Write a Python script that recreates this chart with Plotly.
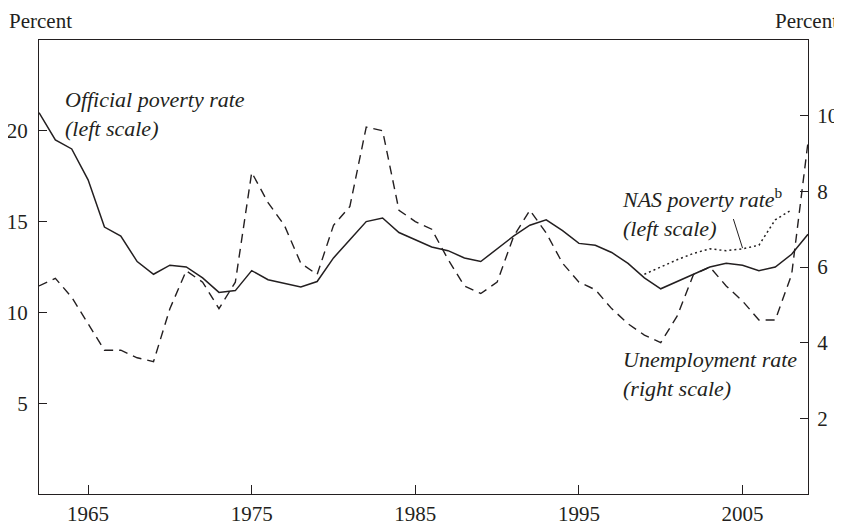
import plotly.graph_objects as go

years = list(range(1962, 2010))
official_poverty = [21.0, 19.5, 19.0, 17.3, 14.7, 14.2, 12.8, 12.1, 12.6, 12.5,
                    11.9, 11.1, 11.2, 12.3, 11.8, 11.6, 11.4, 11.7, 13.0, 14.0,
                    15.0, 15.2, 14.4, 14.0, 13.6, 13.4, 13.0, 12.8, 13.5, 14.2,
                    14.8, 15.1, 14.5, 13.8, 13.7, 13.3, 12.7, 11.9, 11.3, 11.7,
                    12.1, 12.5, 12.7, 12.6, 12.3, 12.5, 13.2, 14.3]
unemployment = [5.5, 5.7, 5.2, 4.5, 3.8, 3.8, 3.6, 3.5, 4.9, 5.9,
                5.6, 4.9, 5.6, 8.5, 7.7, 7.1, 6.1, 5.8, 7.1, 7.6,
                9.7, 9.6, 7.5, 7.2, 7.0, 6.2, 5.5, 5.3, 5.6, 6.8,
                7.5, 6.9, 6.1, 5.6, 5.4, 4.9, 4.5, 4.2, 4.0, 4.7,
                5.8, 6.0, 5.5, 5.1, 4.6, 4.6, 5.8, 9.3]
nas_years = list(range(1999, 2009))
nas_poverty = [12.1, 12.5, 12.9, 13.25, 13.5, 13.4, 13.5, 13.7, 15.1, 15.65]

x_ticks = [1965, 1975, 1985, 1995, 2005]
left_ticks = [5, 10, 15, 20]
right_ticks = [2, 4, 6, 8, 10]

INK = "#231f20"
FONT = "Liberation Serif"

fig = go.Figure()
fig.add_trace(go.Scatter(x=years, y=official_poverty, mode="lines",
                         line=dict(color=INK, width=1.5), yaxis="y"))
fig.add_trace(go.Scatter(x=nas_years, y=nas_poverty, mode="lines",
                         line=dict(color=INK, width=1.5, dash="2px,3px"), yaxis="y"))
fig.add_trace(go.Scatter(x=years, y=unemployment, mode="lines",
                         line=dict(color=INK, width=1.4, dash="9px,6px"), yaxis="y2"))

# The page body offsets the figure by 8px, so the figure is 8px smaller
# and its margins are reduced accordingly on the left and top.
fig.update_layout(
    width=834, height=519,
    margin=dict(l=31, r=34, t=32, b=33),
    paper_bgcolor="white", plot_bgcolor="white",
    showlegend=False,
    font=dict(family=FONT, size=21, color=INK),
    xaxis=dict(range=[1962, 2009], tickvals=x_ticks, ticks="inside", ticklen=9,
               tickcolor=INK, tickwidth=1.2, showline=True, linecolor=INK,
               linewidth=1.3, mirror=True, showgrid=False, zeroline=False,
               automargin=False, ticklabelstandoff=1,
               tickfont=dict(family=FONT, size=21, color=INK)),
    yaxis=dict(range=[0, 25], tickvals=left_ticks, ticks="inside", ticklen=8,
               tickcolor=INK, tickwidth=1.2, showline=True, linecolor=INK,
               linewidth=1.3, showgrid=False, zeroline=False,
               automargin=False, ticklabelstandoff=6,
               tickfont=dict(family=FONT, size=21, color=INK)),
    yaxis2=dict(range=[0, 12], tickvals=right_ticks, ticks="inside", ticklen=8,
                tickcolor=INK, tickwidth=1.2, showline=True, linecolor=INK,
                linewidth=1.3, showgrid=False, zeroline=False, overlaying="y",
                side="right", automargin=False, ticklabelstandoff=4,
                tickfont=dict(family=FONT, size=21, color=INK)),
)

ann_font = dict(family=FONT, size=22, color=INK)
fig.add_annotation(x=1963.45, y=20.95, xref="x", yref="y", xanchor="left",
                   yanchor="middle", align="left", showarrow=False,
                   text="<i>Official poverty rate<br>(left scale)</i>", font=ann_font)
fig.add_annotation(x=1997.5, y=15.5, xref="x", yref="y", xanchor="left",
                   yanchor="middle", align="left", showarrow=False,
                   text="<i>NAS poverty rate</i><sup>b</sup><br><i>(left scale)</i>",
                   font=ann_font)
fig.add_annotation(x=1997.6, y=6.6, xref="x", yref="y", xanchor="left",
                   yanchor="middle", align="left", showarrow=False,
                   text="<i>Unemployment rate<br>(right scale)</i>", font=ann_font)
fig.add_shape(type="line", xref="x", yref="y", x0=2004.44, y0=15.14,
              x1=2005.0, y1=13.54, line=dict(color=INK, width=1))

fig.add_annotation(x=-0.041, y=1.042, xref="paper", yref="paper", xanchor="left",
                   yanchor="middle", showarrow=False, text="Percent",
                   font=dict(family=FONT, size=21, color=INK))
fig.add_annotation(x=1.041, y=1.042, xref="paper", yref="paper", xanchor="right",
                   yanchor="middle", showarrow=False, text="Percent",
                   font=dict(family=FONT, size=21, color=INK))

fig.write_html("out.html")
